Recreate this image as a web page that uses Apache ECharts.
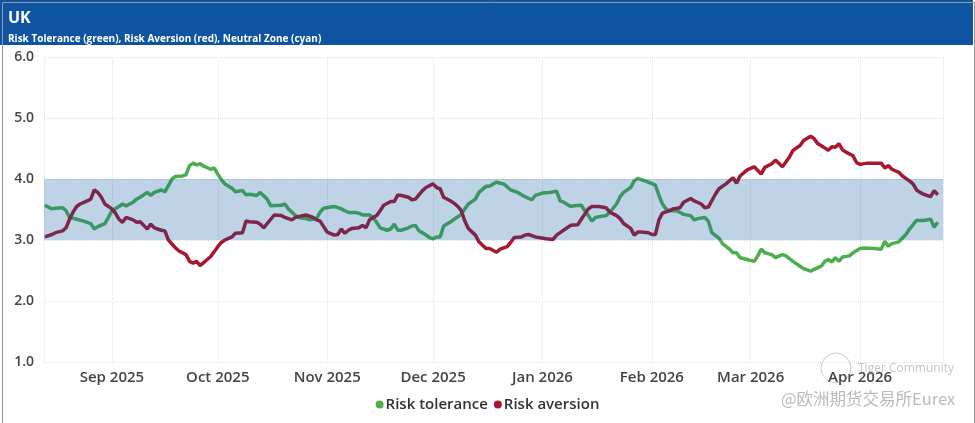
<!DOCTYPE html>
<html>
<head>
<meta charset="utf-8">
<script src="https://cdn.jsdelivr.net/npm/echarts@6/dist/echarts.min.js"></script>
<style>
html,body{margin:0;padding:0;background:#fff;}
#chart{width:975px;height:423px;}
</style>
</head>
<body>
<div id="chart"></div>
<script>
// ---- Data ----
var titleText = 'UK';
var subtitleText = 'Risk Tolerance (green), Risk Aversion (red), Neutral Zone (cyan)';
var seriesNames = ['Risk tolerance', 'Risk aversion'];
var yTicks = [1, 2, 3, 4, 5, 6];
var neutralZone = [3, 4];
var axisStart = '2025-08-12T18:00:00';
var axisEnd = '2026-04-24T12:00:00';

var tolDates = [
 '2025-08-13','2025-08-15','2025-08-16','2025-08-18','2025-08-19','2025-08-20','2025-08-22','2025-08-24','2025-08-26','2025-08-27','2025-08-28','2025-08-30','2025-08-31',
 '2025-09-01','2025-09-03','2025-09-04','2025-09-05','2025-09-07','2025-09-08','2025-09-09','2025-09-11','2025-09-12','2025-09-13','2025-09-15','2025-09-16','2025-09-17','2025-09-18','2025-09-19','2025-09-21','2025-09-22','2025-09-23','2025-09-24','2025-09-25','2025-09-26','2025-09-27','2025-09-29','2025-09-30',
 '2025-10-01','2025-10-02','2025-10-03','2025-10-05','2025-10-06','2025-10-08','2025-10-09','2025-10-10','2025-10-12','2025-10-13','2025-10-15','2025-10-16','2025-10-19','2025-10-20','2025-10-21','2025-10-23','2025-10-24','2025-10-26','2025-10-27','2025-10-29','2025-10-30','2025-10-31',
 '2025-11-02','2025-11-03','2025-11-05','2025-11-06','2025-11-07','2025-11-09','2025-11-10','2025-11-11','2025-11-13','2025-11-14','2025-11-15','2025-11-16','2025-11-18','2025-11-19','2025-11-20','2025-11-21','2025-11-22','2025-11-24','2025-11-25','2025-11-26','2025-11-27','2025-11-29','2025-11-30',
 '2025-12-01','2025-12-02','2025-12-03','2025-12-04','2025-12-06','2025-12-07','2025-12-09','2025-12-10','2025-12-11','2025-12-13','2025-12-14','2025-12-16','2025-12-17','2025-12-19','2025-12-20','2025-12-21','2025-12-23','2025-12-25','2025-12-27','2025-12-29','2025-12-30',
 '2026-01-01','2026-01-03','2026-01-05','2026-01-06','2026-01-07','2026-01-09','2026-01-10','2026-01-12','2026-01-13','2026-01-14','2026-01-15','2026-01-16','2026-01-17','2026-01-19','2026-01-20','2026-01-22','2026-01-23','2026-01-24','2026-01-26','2026-01-27','2026-01-28','2026-01-30','2026-01-31',
 '2026-02-02','2026-02-03','2026-02-04','2026-02-05','2026-02-06','2026-02-08','2026-02-09','2026-02-10','2026-02-12','2026-02-13','2026-02-14','2026-02-16','2026-02-17','2026-02-18','2026-02-20','2026-02-21','2026-02-23','2026-02-24','2026-02-25','2026-02-26','2026-02-28',
 '2026-03-02','2026-03-03','2026-03-04','2026-03-05','2026-03-07','2026-03-08','2026-03-10','2026-03-11','2026-03-13','2026-03-15','2026-03-16','2026-03-18','2026-03-19','2026-03-21','2026-03-22','2026-03-23','2026-03-24','2026-03-25','2026-03-26','2026-03-27','2026-03-29','2026-03-30',
 '2026-04-01','2026-04-02','2026-04-05','2026-04-07','2026-04-08','2026-04-09','2026-04-10','2026-04-12','2026-04-14','2026-04-15','2026-04-17','2026-04-18','2026-04-19','2026-04-21','2026-04-22','2026-04-23'
];
var tolValues = [
 3.57,3.51,3.52,3.53,3.48,3.37,3.34,3.31,3.27,3.18,3.22,3.27,3.37,
 3.48,3.55,3.59,3.56,3.62,3.67,3.70,3.78,3.73,3.78,3.82,3.79,3.89,4.00,4.04,4.05,4.07,4.22,4.26,4.23,4.25,4.21,4.16,4.18,
 4.08,3.99,3.92,3.85,3.79,3.81,3.74,3.75,3.73,3.78,3.67,3.56,3.57,3.59,3.51,3.40,3.37,3.35,3.33,3.35,3.46,3.52,
 3.54,3.55,3.51,3.48,3.45,3.45,3.44,3.41,3.41,3.37,3.29,3.20,3.16,3.18,3.26,3.16,3.16,3.20,3.23,3.24,3.15,3.08,3.04,
 3.02,3.05,3.05,3.23,3.30,3.34,3.42,3.51,3.59,3.67,3.78,3.88,3.88,3.95,3.93,3.92,3.82,3.78,3.71,3.66,3.73,
 3.77,3.78,3.80,3.64,3.62,3.55,3.56,3.57,3.48,3.40,3.31,3.37,3.38,3.40,3.45,3.59,3.71,3.78,3.86,3.97,4.01,3.97,3.95,
 3.90,3.73,3.59,3.51,3.48,3.48,3.45,3.42,3.40,3.33,3.35,3.37,3.31,3.12,3.03,2.94,2.85,2.79,2.79,2.71,2.68,
 2.65,2.74,2.85,2.79,2.76,2.71,2.76,2.74,2.65,2.57,2.53,2.49,2.52,2.57,2.65,2.68,2.64,2.71,2.65,2.72,2.74,2.79,
 2.86,2.87,2.86,2.85,2.98,2.90,2.94,2.97,3.09,3.18,3.32,3.32,3.32,3.34,3.21,3.29
];

var avDates = [
 '2025-08-13','2025-08-15','2025-08-16','2025-08-18','2025-08-19','2025-08-20','2025-08-21','2025-08-22','2025-08-23','2025-08-25','2025-08-26','2025-08-27','2025-08-28','2025-08-29','2025-08-30',
 '2025-09-01','2025-09-02','2025-09-03','2025-09-04','2025-09-05','2025-09-07','2025-09-08','2025-09-09','2025-09-10','2025-09-11','2025-09-12','2025-09-13','2025-09-15','2025-09-16','2025-09-17','2025-09-19','2025-09-20','2025-09-22','2025-09-23','2025-09-24','2025-09-25','2025-09-26','2025-09-27','2025-09-28','2025-09-29',
 '2025-10-01','2025-10-02','2025-10-03','2025-10-05','2025-10-06','2025-10-08','2025-10-09','2025-10-10','2025-10-12','2025-10-13','2025-10-14','2025-10-16','2025-10-17','2025-10-19','2025-10-20','2025-10-21','2025-10-22','2025-10-23','2025-10-25','2025-10-26','2025-10-28','2025-10-29','2025-10-30','2025-10-31',
 '2025-11-01','2025-11-03','2025-11-04','2025-11-05','2025-11-06','2025-11-07','2025-11-08','2025-11-10','2025-11-11','2025-11-12','2025-11-13','2025-11-15','2025-11-16','2025-11-17','2025-11-19','2025-11-20','2025-11-21','2025-11-22','2025-11-24','2025-11-25','2025-11-26','2025-11-28','2025-11-29',
 '2025-12-01','2025-12-02','2025-12-03','2025-12-04','2025-12-06','2025-12-07','2025-12-08','2025-12-09','2025-12-10','2025-12-11','2025-12-13','2025-12-14','2025-12-16','2025-12-17','2025-12-19','2025-12-20','2025-12-22','2025-12-23','2025-12-24','2025-12-26','2025-12-27','2025-12-28','2025-12-30','2025-12-31',
 '2026-01-02','2026-01-04','2026-01-05','2026-01-06','2026-01-08','2026-01-09','2026-01-11','2026-01-12','2026-01-14','2026-01-15','2026-01-17','2026-01-19','2026-01-20','2026-01-22','2026-01-23','2026-01-24','2026-01-26','2026-01-27','2026-01-28','2026-01-29','2026-01-31',
 '2026-02-01','2026-02-02','2026-02-03','2026-02-04','2026-02-06','2026-02-07','2026-02-09','2026-02-10','2026-02-12','2026-02-13','2026-02-15','2026-02-16','2026-02-17','2026-02-19','2026-02-20','2026-02-22','2026-02-24','2026-02-25','2026-02-26','2026-02-28',
 '2026-03-02','2026-03-04','2026-03-05','2026-03-07','2026-03-08','2026-03-10','2026-03-12','2026-03-13','2026-03-15','2026-03-16','2026-03-18','2026-03-19','2026-03-20','2026-03-22','2026-03-23','2026-03-24','2026-03-25','2026-03-26','2026-03-27','2026-03-28','2026-03-30','2026-03-31',
 '2026-04-01','2026-04-03','2026-04-05','2026-04-07','2026-04-08','2026-04-09','2026-04-10','2026-04-12','2026-04-13','2026-04-15','2026-04-16','2026-04-17','2026-04-18','2026-04-19','2026-04-21','2026-04-22','2026-04-23'
];
var avValues = [
 3.05,3.09,3.12,3.15,3.20,3.34,3.46,3.55,3.59,3.64,3.67,3.82,3.78,3.70,3.59,
 3.51,3.44,3.34,3.29,3.37,3.33,3.29,3.30,3.24,3.18,3.26,3.20,3.16,3.15,3.00,2.87,2.82,2.76,2.65,2.62,2.65,2.58,2.63,2.68,2.73,
 2.89,2.96,3.00,3.05,3.11,3.12,3.31,3.30,3.29,3.26,3.20,3.34,3.41,3.40,3.37,3.35,3.33,3.37,3.40,3.41,3.37,3.33,3.31,3.22,
 3.13,3.08,3.09,3.18,3.11,3.16,3.19,3.20,3.24,3.20,3.33,3.40,3.48,3.57,3.63,3.63,3.74,3.73,3.70,3.66,3.67,3.81,3.86,
 3.92,3.86,3.84,3.70,3.64,3.60,3.55,3.48,3.31,3.19,3.08,2.97,2.86,2.86,2.80,2.85,2.89,2.96,3.04,3.05,3.08,3.09,3.05,3.04,
 3.02,3.01,3.08,3.12,3.20,3.24,3.25,3.34,3.51,3.55,3.55,3.53,3.46,3.40,3.35,3.27,3.19,3.08,3.13,3.13,3.12,
 3.09,3.09,3.33,3.44,3.48,3.51,3.53,3.62,3.68,3.64,3.59,3.53,3.54,3.75,3.84,3.92,4.02,3.93,4.05,4.15,
 4.20,4.08,4.19,4.25,4.31,4.20,4.36,4.47,4.55,4.63,4.70,4.66,4.58,4.51,4.47,4.53,4.52,4.58,4.48,4.44,4.38,4.27,
 4.24,4.26,4.26,4.26,4.18,4.22,4.16,4.11,4.05,3.97,3.92,3.82,3.78,3.75,3.71,3.81,3.74
];

var monthNames = ['Jan','Feb','Mar','Apr','May','Jun','Jul','Aug','Sep','Oct','Nov','Dec'];

function zip(d, v) { var out = []; for (var i = 0; i < d.length; i++) out.push([d[i], v[i]]); return out; }

var FONT = '"Open Sans", "Noto Sans", sans-serif';
var chart = echarts.init(document.getElementById('chart'), null, {renderer: 'canvas'});

var option = {
  animation: false,
  backgroundColor: '#ffffff',
  graphic: [
    {type: 'rect', left: 0, top: 0, shape: {x: 0.5, y: 0.5, width: 972, height: 421}, style: {fill: 'none', stroke: '#9a9a9a', lineWidth: 1}, z: 100},
    {type: 'rect', shape: {x: 0, y: 0, width: 973, height: 45}, style: {fill: '#0e54a0'}, z: 0},
    {type: 'text', left: 858, top: 363, style: {text: 'Tiger Community', fill: 'rgba(150,150,150,0.55)', font: '12px ' + FONT}, z: 50},
    {type: 'circle', shape: {cx: 836, cy: 368, r: 15}, style: {fill: 'none', stroke: 'rgba(150,150,150,0.5)', lineWidth: 1}, z: 50},
    {type: 'text', left: 781, top: 390, style: {text: '@欧洲期货交易所Eurex', fill: 'rgba(140,140,140,0.6)', font: '16.5px "Noto Sans CJK SC", sans-serif'}, z: 50}
  ],
  title: [
    {text: titleText, left: 3, top: 5, textStyle: {color: '#fff', fontSize: 16, fontWeight: 'bold', fontFamily: FONT}},
    {text: subtitleText, left: 3, top: 29, textStyle: {color: '#fff', fontSize: 10, fontWeight: 'bold', fontFamily: FONT}}
  ],
  legend: {
    data: seriesNames,
    bottom: 6,
    left: 'center',
    icon: 'circle',
    itemWidth: 8,
    itemHeight: 8,
    itemGap: 6,
    textStyle: {color: '#333', fontSize: 15, fontWeight: 600, fontFamily: FONT, padding: [0, 0, 0, -3]}
  },
  grid: {left: 44, right: 32, top: 57, bottom: 61, containLabel: false},
  xAxis: {
    type: 'time',
    min: axisStart,
    max: axisEnd,
    minInterval: 28 * 86400000,
    maxInterval: 31 * 86400000,
    axisLine: {show: false},
    axisTick: {show: false},
    splitLine: {show: true, lineStyle: {color: '#e2e2e2', type: 'dotted', width: 1}},
    axisLabel: {
      color: '#444', fontSize: 15, fontWeight: 600, fontFamily: FONT, margin: 8,
      formatter: function (v) { var d = new Date(v); return monthNames[d.getMonth()] + ' ' + d.getFullYear(); }
    }
  },
  yAxis: {
    type: 'value',
    min: yTicks[0],
    max: yTicks[yTicks.length - 1],
    interval: 1,
    axisLine: {show: false},
    axisTick: {show: false},
    splitLine: {show: true, lineStyle: {color: '#e2e2e2', type: 'dotted', width: 1}},
    axisLabel: {color: '#444', fontSize: 14, fontWeight: 600, fontFamily: FONT, margin: 10,
      formatter: function (v) { return v.toFixed(1); }}
  },
  series: [
    {
      name: seriesNames[0], type: 'line', data: zip(tolDates, tolValues),
      showSymbol: false, symbol: 'circle', color: '#4caf4c',
      lineStyle: {width: 3.5, color: '#4caf4c'}, z: 2
    },
    {
      name: seriesNames[1], type: 'line', data: zip(avDates, avValues),
      showSymbol: false, symbol: 'circle', color: '#a8172e',
      lineStyle: {width: 3.5, color: '#a8172e'}, z: 2
    },
    {
      name: 'Neutral Zone', type: 'custom', z: 5, silent: true,
      data: [[axisStart, axisEnd, neutralZone[0], neutralZone[1]]],
      encode: {x: [0, 1], y: [2, 3]},
      renderItem: function (params, api) {
        var p1 = api.coord([api.value(0), api.value(3)]);
        var p2 = api.coord([api.value(1), api.value(2)]);
        return {
          type: 'rect',
          shape: {x: p1[0], y: p1[1], width: p2[0] - p1[0], height: p2[1] - p1[1]},
          style: {fill: 'rgba(0,80,160,0.25)', stroke: 'rgba(0,80,160,0.15)', lineWidth: 0.5, lineDash: [1, 2]}
        };
      }
    }
  ]
};
chart.setOption(option);
</script>
</body>
</html>
